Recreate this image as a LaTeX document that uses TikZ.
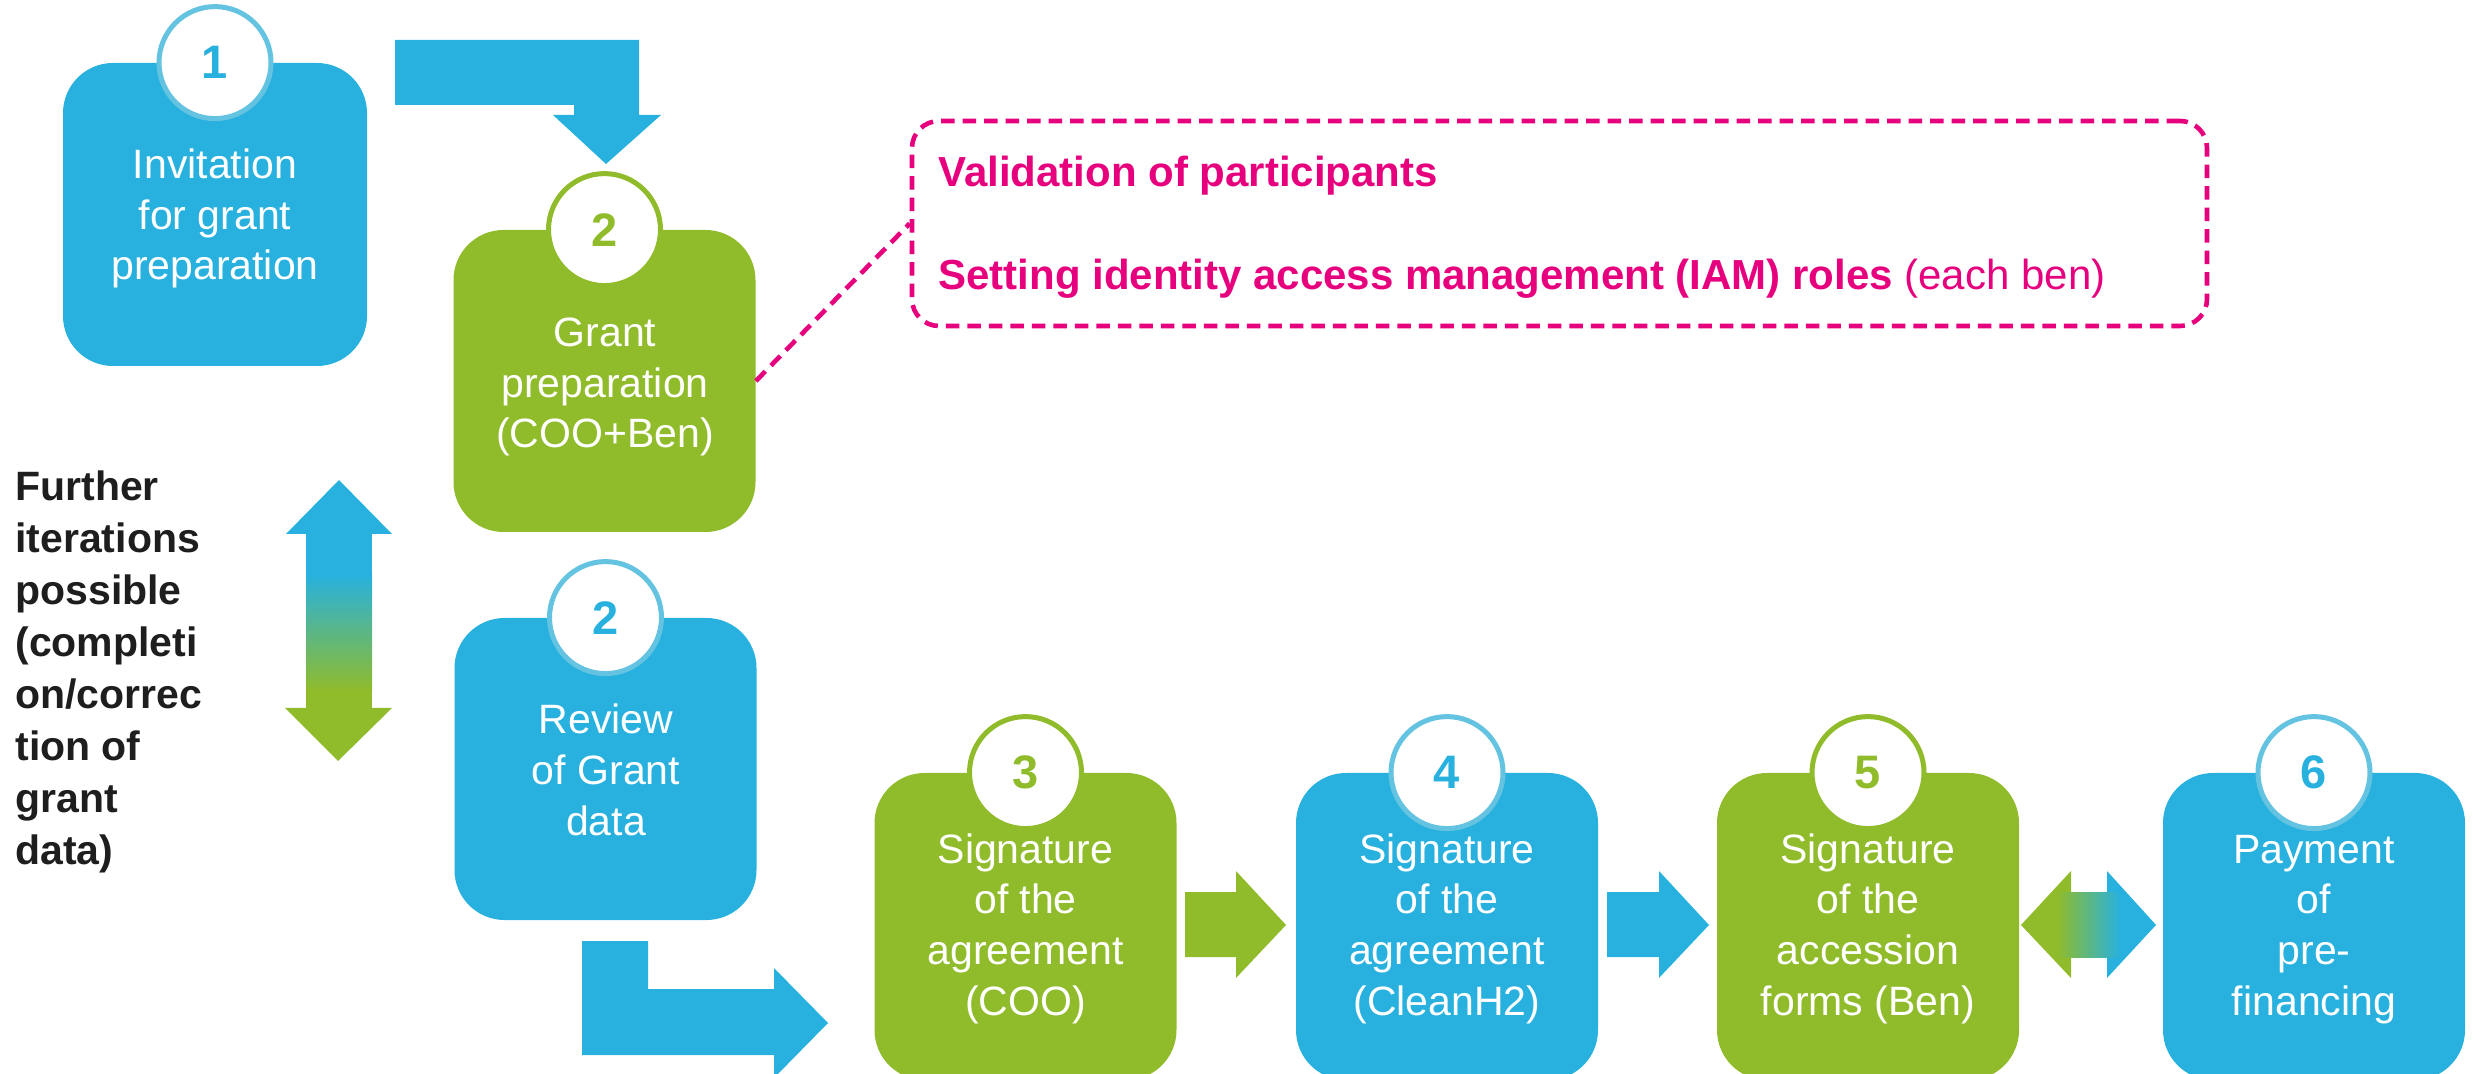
\documentclass[tikz,border=0pt]{standalone}
\usepackage{fontspec}
\setmainfont{Liberation Sans}
\definecolor{cblue}{RGB}{40,177,222}
\definecolor{cblueline}{RGB}{100,195,225}
\definecolor{cgreen}{RGB}{144,188,43}
\definecolor{cmag}{RGB}{230,0,126}
\definecolor{cblack}{RGB}{30,30,30}
\begin{document}
\begin{tikzpicture}[x=0.5pt,y=-0.5pt,
  box/.style={rectangle, rounded corners=25pt, minimum width=151pt, minimum height=151pt, inner sep=0pt, draw=none},
  bluebox/.style={box, fill=cblue},
  greenbox/.style={box, fill=cgreen},
  lowbox/.style={minimum height=153.5pt},
  num/.style={circle, fill=white, line width=2.5pt, minimum size=56pt, inner sep=0pt, font=\fontsize{23.5}{28}\selectfont\bfseries},
  numb/.style={num, draw=cblueline, text=cblue},
  numg/.style={num, draw=cgreen, text=cgreen},
  lbl/.style={text=white, align=center, anchor=base, inner sep=0pt, font=\fontsize{20.5}{25.3}\selectfont},
  notebox/.style={rectangle, rounded corners=13.5pt, draw=cmag, line width=2.3pt, dash pattern=on 6.75pt off 4pt, minimum width=647.5pt, minimum height=102.5pt, inner sep=0pt},
  notetxt/.style={text=cmag, anchor=base west, inner sep=0pt, font=\fontsize{21}{25}\selectfont},
  link/.style={draw=cmag, line width=2.3pt, dash pattern=on 6.75pt off 4pt}
]
\useasboundingbox (0,0) rectangle (2481,1074);

% bent arrow 1 -> 2
\fill[cblue] (395,40) -- (639,40) -- (639,115) -- (661,115) -- (606,164) -- (553,115) -- (574,115) -- (574,105) -- (395,105) -- cycle;

% vertical double arrow
\fill[cblue] (286,534) -- (339,480) -- (392,534) -- cycle;
\fill[cgreen] (285,708) -- (392,708) -- (338,761) -- cycle;
\fill[cblue] (306,530) rectangle (372,576);
\shade[top color=cblue, bottom color=cgreen] (306,575) rectangle (372,691);
\fill[cgreen] (306,690) rectangle (372,710);

% bent arrow 2 -> 3
\fill[cblue] (582,941) -- (648,941) -- (648,989) -- (774,989) -- (774,968) -- (828,1023) -- (774,1078) -- (774,1055) -- (582,1055) -- cycle;

% arrow 3 -> 4
\fill[cgreen] (1185,892) -- (1236,892) -- (1236,871) -- (1286,925) -- (1236,978) -- (1236,957) -- (1185,957) -- cycle;
% arrow 4 -> 5
\fill[cblue] (1607,892) -- (1659,892) -- (1659,871) -- (1709,925) -- (1659,978) -- (1659,957) -- (1607,957) -- cycle;
% double arrow 5 <-> 6
\fill[cgreen] (2071,871) -- (2021,925) -- (2071,978) -- cycle;
\fill[cblue] (2107,871) -- (2156,925) -- (2107,978) -- cycle;
\shade[left color=cgreen, right color=cblue] (2057,892) rectangle (2120,957);

% boxes
\node[bluebox, minimum width=152pt, minimum height=151.5pt] (b1) at (215,214.5) {};
\node[greenbox] (b2) at (604.5,381) {};
\node[bluebox] (b2r) at (605.5,769) {};
\node[greenbox, lowbox] (b3) at (1025.5,926.5) {};
\node[bluebox, lowbox] (b4) at (1447,926.5) {};
\node[greenbox, lowbox] (b5) at (1868,926.5) {};
\node[bluebox, lowbox] (b6) at (2314,926.5) {};

% number circles
\node[numb] (c1) at (b1.north) {1};
\node[numg] (c2) at (b2.north) {2};
\node[numb] (c2r) at (b2r.north) {2};
\node[numg] (c3) at (b3.north) {3};
\node[numb] (c4) at (b4.north) {4};
\node[numg] (c5) at (b5.north) {5};
\node[numb] (c6) at (b6.north) {6};

% box texts (anchored at the baseline of the last line)
\node[lbl] (t1) at (215,280) {Invitation\\for grant\\preparation};
\node[lbl] (t2) at (605,448) {Grant\\preparation\\(COO+Ben)};
\node[lbl] (t2r) at (606,835) {Review\\of Grant\\data};
\node[lbl] (t3) at (1025.5,1015) {Signature\\of the\\agreement\\(COO)};
\node[lbl] (t4) at (1447,1015) {Signature\\of the\\agreement\\(CleanH2)};
\node[lbl] (t5) at (1868,1015) {Signature\\of the\\accession\\forms (Ben)};
\node[lbl] (t6) at (2314,1015) {Payment\\of\\pre-\\financing};

% note box
\node[notebox] (note) at (1559.5,223.5) {};
\node[notetxt] (n1) at (938,187) {\bfseries Validation of participants};
\node[notetxt] (n2) at (938,290) {\textbf{Setting identity access management (IAM) roles} (each ben)};
\draw[link] (b2.east) -- (note.west);

% left text
\node[anchor=base west, align=left, inner sep=0pt, text=cblack, font=\fontsize{20.5}{26}\selectfont\bfseries] (side) at (15,864)
  {Further\\iterations\\possible\\(completi\\on/correc\\tion of\\grant\\data)};
\end{tikzpicture}
\end{document}
